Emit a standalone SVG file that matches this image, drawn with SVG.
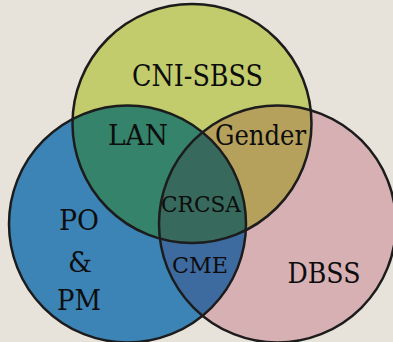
<svg xmlns="http://www.w3.org/2000/svg" width="393" height="342" viewBox="0 0 393 342">
<style>
.lbl{fill:#0d0d0d;text-anchor:middle;font-family:"DejaVu Serif","Times New Roman","Liberation Serif","Noto Serif",Georgia,serif}
.ring{fill:none;stroke:#1c1c1c;stroke-width:2.5}
</style>
<defs>
<circle id="cT" cx="192" cy="123.5" r="119.5"/>
<circle id="cL" cx="127.5" cy="224" r="118.5"/>
<circle id="cR" cx="277.5" cy="224" r="118.5"/>
<clipPath id="clipT"><use href="#cT"/></clipPath>
<clipPath id="clipL"><use href="#cL"/></clipPath>
</defs>
<rect width="393" height="342" fill="#e8e3da"/>
<g id="fills">
<use href="#cT" fill="#c2cc6c"/>
<use href="#cL" fill="#3c84b6"/>
<use href="#cR" fill="#d7b0b4"/>
<g clip-path="url(#clipT)"><use href="#cL" fill="#34836a"/><use href="#cR" fill="#b5a05c"/></g>
<g clip-path="url(#clipL)"><use href="#cR" fill="#3d6a9f"/></g>
<g clip-path="url(#clipT)"><g clip-path="url(#clipL)"><use href="#cR" fill="#376a5c"/></g></g>
</g>
<g id="node-cni-sbss"><use href="#cT" class="ring"/><text class="lbl" x="197.5" y="86" font-size="29" textLength="131" lengthAdjust="spacingAndGlyphs">CNI-SBSS</text></g>
<g id="node-po-pm"><use href="#cL" class="ring"/><text class="lbl" x="79" y="230" font-size="27" textLength="40" lengthAdjust="spacingAndGlyphs">PO</text><text class="lbl" x="80" y="272" font-size="27">&amp;</text><text class="lbl" x="79" y="310" font-size="27" textLength="44" lengthAdjust="spacingAndGlyphs">PM</text></g>
<g id="node-dbss"><use href="#cR" class="ring"/><text class="lbl" x="324" y="283" font-size="28" textLength="73" lengthAdjust="spacingAndGlyphs">DBSS</text></g>
<g id="node-lan"><text class="lbl" x="138" y="145" font-size="28" textLength="60" lengthAdjust="spacingAndGlyphs">LAN</text></g>
<g id="node-gender"><text class="lbl" x="260.5" y="145" font-size="28" textLength="91" lengthAdjust="spacingAndGlyphs">Gender</text></g>
<g id="node-crcsa"><text class="lbl" x="201" y="212" font-size="22" textLength="80" lengthAdjust="spacingAndGlyphs">CRCSA</text></g>
<g id="node-cme"><text class="lbl" x="200" y="273" font-size="23" textLength="56" lengthAdjust="spacingAndGlyphs">CME</text></g>
<g id="connectors"/>
</svg>
